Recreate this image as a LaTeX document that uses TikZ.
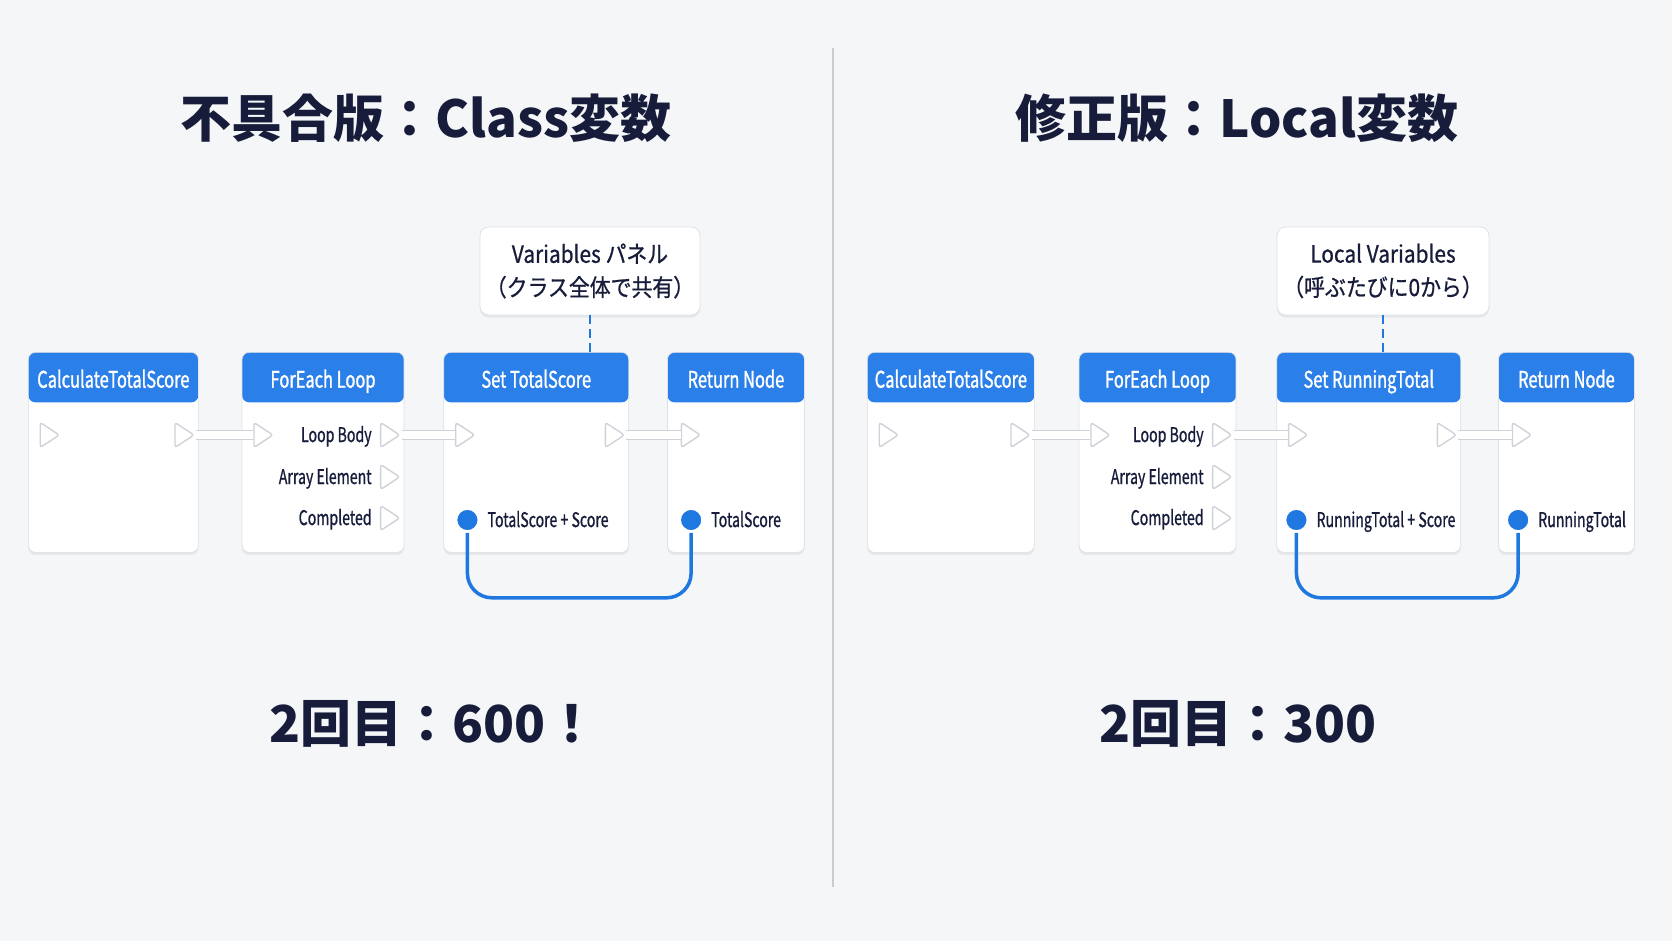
\documentclass[tikz,border=0pt]{standalone}
\usepackage{fontspec}
\setmainfont{Noto Sans CJK JP}
\newfontfamily\cardfont[FakeStretch=0.72, FakeBold=1.2]{Noto Sans CJK JP}
\newfontfamily\labelfont[FakeStretch=0.7, FakeBold=0.8]{Noto Sans CJK JP}
\newfontfamily\panelfont[FakeStretch=0.88, FakeBold=0.8]{Noto Sans CJK JP}
\usetikzlibrary{positioning, shapes.geometric, shadows}
\definecolor{bgcol}{HTML}{F5F6F8}
\definecolor{ink}{HTML}{161C3A}
\definecolor{hdrblue}{HTML}{2A80E8}
\definecolor{wireblue}{HTML}{1F78E0}
\definecolor{cardline}{HTML}{DDE0E5}
\definecolor{pinline}{HTML}{CFD2D8}
\definecolor{divider}{HTML}{C8CBD0}

\begin{document}
\begin{tikzpicture}[
        card/.style={rectangle, rounded corners=4pt, draw=cardline, fill=white, minimum height=4cm, inner sep=0pt,
            drop shadow={opacity=0.12, shadow xshift=0pt, shadow yshift=-1.5pt},
            path picture={\fill[hdrblue] (path picture bounding box.north west) rectangle ([yshift=-1cm]path picture bounding box.north east);}},
        header/.style={anchor=north, minimum height=1cm, inner sep=0pt, text height=13.5pt, text depth=1.7pt, text=white, font=\cardfont\fontsize{13}{15}\selectfont},
        execpin/.style={isosceles triangle, isosceles triangle stretches, minimum width=0.5cm, minimum height=0.38cm, inner sep=0pt, fill=white, draw=pinline, line width=0.8pt, rounded corners=1.5pt},
        datapin/.style={circle, fill=wireblue, draw=white, line width=1.5pt, minimum size=0.46cm, inner sep=0pt},
        pinlabel/.style={inner sep=0pt, text height=10pt, text depth=2pt, text=ink, font=\labelfont\fontsize{11.5}{13}\selectfont},
        panel/.style={rectangle, rounded corners=5pt, draw=cardline, fill=white, minimum width=4.36cm, minimum height=1.76cm, align=center, text=ink, font=\panelfont\fontsize{13.5}{19}\selectfont,
            drop shadow={opacity=0.12, shadow xshift=0pt, shadow yshift=-1.5pt}},
        heading/.style={text=ink, font=\bfseries\fontsize{29}{34}\selectfont},
        execwire/.style={draw=pinline, line width=0.8pt, double=white, double distance=4.4pt},
        datawire/.style={draw=wireblue, line width=2pt, rounded corners=14pt},
        link/.style={draw=wireblue, line width=1.3pt, dash pattern=on 5pt off 3pt}
    ]
        \useasboundingbox (0,0) rectangle (33.44,-18.82);
        \fill[bgcol] (0,0) rectangle (33.44,-18.82);
        \draw[divider, line width=1.1pt] (16.66,-0.96) -- (16.66,-17.74);

        \node[heading] (titleL) at (8.52,-2.36) {不具合版：Class変数};
        \node[heading] (titleR) at (24.74,-2.36) {修正版：Local変数};
        \node[heading] (resultL) at (8.66,-14.48) {2回目：600！};
        \node[heading] (resultR) at (24.76,-14.48) {2回目：300};

        \node[card, minimum width=3.4cm, anchor=north west] (calcL) at (0.56,-7.04) {};
        \node[card, minimum width=3.24cm, right=0.86cm of calcL] (loopL) {};
        \node[card, minimum width=3.7cm, right=0.78cm of loopL] (setL) {};
        \node[card, minimum width=2.74cm, right=0.76cm of setL] (retL) {};
        \node[header] (calcLH) at (calcL.north) {CalculateTotalScore};
        \node[header] (loopLH) at (loopL.north) {ForEach Loop};
        \node[header] (setLH) at (setL.north) {Set TotalScore};
        \node[header] (retLH) at (retL.north) {Return Node};

        \node[execpin] (calcLIn) at ([xshift=0.38cm, yshift=-1.66cm]calcL.north west) {};
        \node[execpin] (calcLOut) at ([xshift=-0.34cm, yshift=-1.66cm]calcL.north east) {};
        \node[execpin] (loopLIn) at ([xshift=0.38cm, yshift=-1.66cm]loopL.north west) {};
        \node[execpin] (loopLBody) at ([xshift=-0.34cm, yshift=-1.66cm]loopL.north east) {};
        \node[execpin] (loopLElem) at ([yshift=-0.84cm]loopLBody) {};
        \node[execpin] (loopLDone) at ([yshift=-0.82cm]loopLElem) {};
        \node[execpin] (setLIn) at ([xshift=0.38cm, yshift=-1.66cm]setL.north west) {};
        \node[execpin] (setLOut) at ([xshift=-0.34cm, yshift=-1.66cm]setL.north east) {};
        \node[execpin] (retLIn) at ([xshift=0.42cm, yshift=-1.66cm]retL.north west) {};
        \node[datapin] (setLVal) at ([xshift=0.48cm, yshift=-3.36cm]setL.north west) {};
        \node[datapin] (retLVal) at ([xshift=0.48cm, yshift=-3.36cm]retL.north west) {};

        \node[pinlabel, left=0.16cm of loopLBody] (loopLBodyTxt) {Loop Body};
        \node[pinlabel, left=0.16cm of loopLElem] (loopLElemTxt) {Array Element};
        \node[pinlabel, left=0.16cm of loopLDone] (loopLDoneTxt) {Completed};
        \node[pinlabel, right=0.14cm of setLVal] (setLValTxt) {TotalScore + Score};
        \node[pinlabel, right=0.14cm of retLVal] (retLValTxt) {TotalScore};

        \node[panel] (varsL) at (11.80,-5.42) {Variables パネル\\（クラス全体で共有）};

        \path[execwire] (calcLOut.east) -- (loopLIn.west);
        \path[execwire] (loopLBody.east) -- (setLIn.west);
        \path[execwire] (setLOut.east) -- (retLIn.west);
        \path[datawire] (setLVal.south) -- ++(0,-1.3) -| (retLVal.south);
        \path[link] (varsL.south) -- (varsL.south |- setL.north);

        \node[card, minimum width=3.34cm, anchor=north west] (calcR) at (17.34,-7.04) {};
        \node[card, minimum width=3.14cm, right=0.88cm of calcR] (loopR) {};
        \node[card, minimum width=3.68cm, right=0.8cm of loopR] (setR) {};
        \node[card, minimum width=2.72cm, right=0.74cm of setR] (retR) {};
        \node[header] (calcRH) at (calcR.north) {CalculateTotalScore};
        \node[header] (loopRH) at (loopR.north) {ForEach Loop};
        \node[header] (setRH) at (setR.north) {Set RunningTotal};
        \node[header] (retRH) at (retR.north) {Return Node};

        \node[execpin] (calcRIn) at ([xshift=0.38cm, yshift=-1.66cm]calcR.north west) {};
        \node[execpin] (calcROut) at ([xshift=-0.34cm, yshift=-1.66cm]calcR.north east) {};
        \node[execpin] (loopRIn) at ([xshift=0.38cm, yshift=-1.66cm]loopR.north west) {};
        \node[execpin] (loopRBody) at ([xshift=-0.34cm, yshift=-1.66cm]loopR.north east) {};
        \node[execpin] (loopRElem) at ([yshift=-0.84cm]loopRBody) {};
        \node[execpin] (loopRDone) at ([yshift=-0.82cm]loopRElem) {};
        \node[execpin] (setRIn) at ([xshift=0.38cm, yshift=-1.66cm]setR.north west) {};
        \node[execpin] (setROut) at ([xshift=-0.34cm, yshift=-1.66cm]setR.north east) {};
        \node[execpin] (retRIn) at ([xshift=0.42cm, yshift=-1.66cm]retR.north west) {};
        \node[datapin] (setRVal) at ([xshift=0.4cm, yshift=-3.36cm]setR.north west) {};
        \node[datapin] (retRVal) at ([xshift=0.4cm, yshift=-3.36cm]retR.north west) {};

        \node[pinlabel, left=0.16cm of loopRBody] (loopRBodyTxt) {Loop Body};
        \node[pinlabel, left=0.16cm of loopRElem] (loopRElemTxt) {Array Element};
        \node[pinlabel, left=0.16cm of loopRDone] (loopRDoneTxt) {Completed};
        \node[pinlabel, right=0.14cm of setRVal] (setRValTxt) {RunningTotal + Score};
        \node[pinlabel, right=0.14cm of retRVal] (retRValTxt) {RunningTotal};

        \node[panel, minimum width=4.24cm] (varsR) at (27.66,-5.42) {Local Variables\\（呼ぶたびに0から）};

        \path[execwire] (calcROut.east) -- (loopRIn.west);
        \path[execwire] (loopRBody.east) -- (setRIn.west);
        \path[execwire] (setROut.east) -- (retRIn.west);
        \path[datawire] (setRVal.south) -- ++(0,-1.3) -| (retRVal.south);
        \path[link] (varsR.south) -- (varsR.south |- setR.north);
    \end{tikzpicture}
\end{document}
